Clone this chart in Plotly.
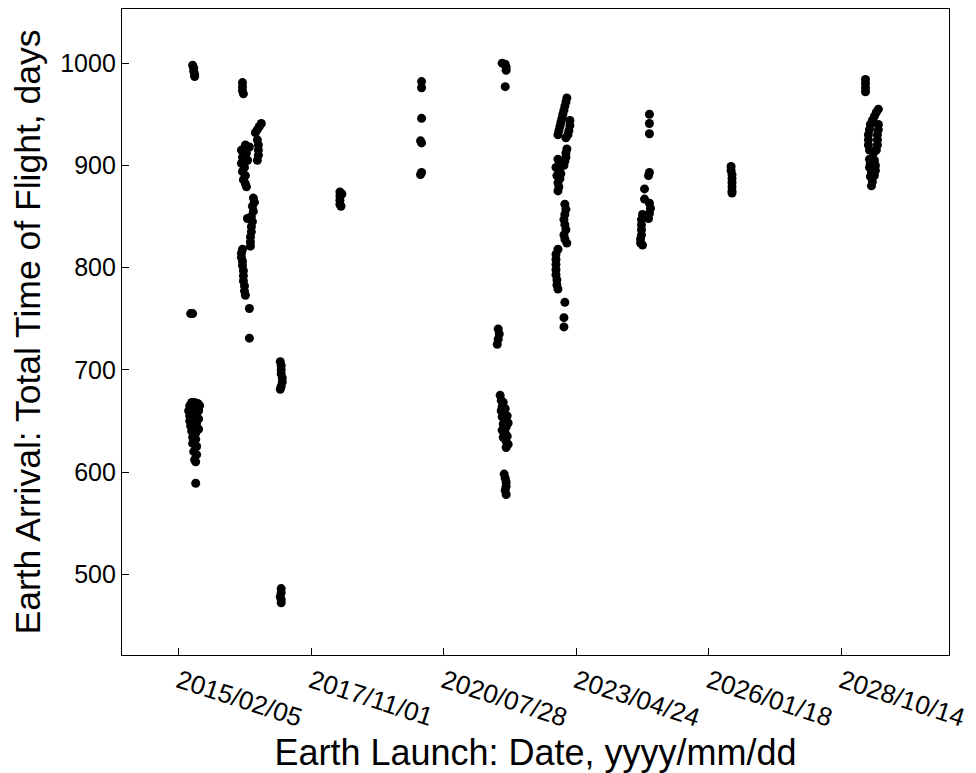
import pandas as pd
import plotly.graph_objects as go

# Launch epoch of the first tick; launch values below are days after this date
epoch = "2015-02-05"
tick_labels = ["2015/02/05", "2017/11/01", "2020/07/28", "2023/04/24", "2026/01/18", "2028/10/14"]
y_ticks = [500, 600, 700, 800, 900, 1000]

# Window 1 (early 2015)
w1_launch = [105, 113, 113, 120, 120, 90, 105,
             83, 98, 120, 143, 158, 75, 98, 128, 150, 83, 105, 135, 150, 83, 113, 135,
             90, 120, 150, 98, 128, 105, 128, 105, 135, 113, 135, 120, 128, 128]
w1_tof = [998, 995, 992, 989, 987, 755, 755,
          665, 668, 668, 667, 665, 660, 662, 662, 660, 655, 656, 655, 652, 650, 650, 648,
          645, 644, 642, 640, 638, 634, 632, 628, 625, 620, 617, 612, 610, 589]

# Window 2 (mid 2016)
w2_launch = [481, 481, 481, 488,
             623, 608, 593, 578,
             593, 601, 601, 601, 593,
             503, 533, 473, 511, 481, 518, 473, 496, 481, 503, 488, 503, 511, 518,
             563, 571, 556, 563, 548, 556, 548, 548, 541, 541, 541, 518,
             481, 473, 473, 481, 481,
             488, 488, 488, 496, 496, 503,
             533, 533]
w2_tof = [981, 977, 973, 970,
          941, 938, 935, 932,
          925, 920, 915, 910, 905,
          920, 918, 915, 912, 908, 905, 902, 898, 894, 890, 886, 882, 879, 905,
          868, 864, 860, 855, 850, 845, 840, 835, 830, 825, 821, 848,
          818, 814, 810, 806, 802,
          797, 792, 787, 782, 777, 773,
          760, 731]

# Window 3 (early 2017)
w3_launch = [766, 773, 773, 773, 781, 781, 773, 766, 773, 773, 766, 773, 773]
w3_tof = [708, 704, 700, 696, 692, 688, 684, 681, 486, 482, 478, 475, 472]

# Window 4 (early 2018)
w4_launch = [1216, 1216, 1216, 1216, 1224, 1231]
w4_tof = [874, 870, 866, 862, 860, 872]

# Window 5 (early 2020)
w5_launch = [1832, 1832, 1832, 1824, 1832, 1832, 1824]
w5_tof = [982, 976, 946, 924, 922, 893, 891]

# Window 6 (late 2021)
w6_launch = [2440, 2463, 2470, 2470, 2463,
             2410, 2418, 2410, 2403,
             2425, 2433, 2448, 2440, 2463, 2433, 2455, 2478, 2440, 2463, 2485, 2448, 2470,
             2440, 2463, 2478, 2448, 2470, 2485, 2470,
             2455, 2463, 2470, 2470, 2463, 2470]
w6_tof = [1000, 999, 996, 993, 977,
          740, 735, 730, 725,
          675, 670, 668, 664, 662, 660, 657, 655, 654, 650, 648, 647, 644,
          641, 638, 635, 634, 630, 627, 624,
          598, 594, 590, 586, 582, 578]

# Window 7 (early 2023)
w7_launch = [2928, 2921, 2913, 2906, 2898, 2891, 2883, 2876, 2868, 2861, 2951, 2951, 2943, 2936, 2921,
             2928, 2921, 2921, 2913, 2906, 2861, 2876, 2846, 2868, 2883, 2853, 2876, 2861, 2868, 2861,
             2913, 2921, 2913, 2906, 2913, 2921, 2906, 2913, 2928,
             2861, 2846, 2846, 2846, 2846, 2846, 2853, 2853, 2861,
             2913, 2906, 2906]
w7_tof = [966, 962, 958, 954, 950, 946, 942, 938, 934, 930, 944, 939, 934, 930, 927,
          916, 912, 908, 904, 900, 906, 902, 898, 895, 892, 890, 887, 883, 879, 875,
          862, 857, 852, 847, 842, 837, 832, 828, 824,
          818, 813, 808, 803, 798, 793, 788, 783, 779,
          766, 751, 742]

# Window 8 (late 2024)
w8_launch = [3551, 3551, 3551, 3551, 3544, 3514, 3514,
             3551, 3559, 3551, 3544,
             3499, 3491, 3491, 3491, 3491, 3484, 3484, 3499]
w8_tof = [950, 941, 931, 893, 890, 877, 867,
          863, 858, 853, 848,
          852, 847, 842, 837, 832, 828, 824, 822]

# Window 9 (mid 2026)
w9_launch = [4167, 4167, 4174, 4174, 4174, 4174, 4174, 4174]
w9_tof = [899, 895, 891, 887, 883, 879, 875, 873]

# Window 10 (early 2029)
w10_launch = [5181, 5181, 5181, 5181,
              5278, 5263, 5248, 5233, 5218, 5211, 5203, 5203, 5203, 5211,
              5278, 5278, 5271, 5271, 5271, 5263, 5241,
              5211, 5218, 5211, 5248, 5256, 5256, 5248, 5226, 5218, 5233, 5226]
w10_tof = [984, 980, 976, 972,
           955, 952, 948, 944, 940, 935, 930, 925, 920, 915,
           940, 935, 930, 925, 920, 915, 912,
           906, 902, 898, 905, 900, 895, 890, 893, 889, 884, 880]

launch_days = (w1_launch + w2_launch + w3_launch + w4_launch + w5_launch
               + w6_launch + w7_launch + w8_launch + w9_launch + w10_launch)
tof_days = (w1_tof + w2_tof + w3_tof + w4_tof + w5_tof
            + w6_tof + w7_tof + w8_tof + w9_tof + w10_tof)

base = pd.Timestamp(epoch)
launch_dates = [base + pd.Timedelta(days=d) for d in launch_days]
tick_vals = [t.replace("/", "-") for t in tick_labels]
x_range = [base + pd.Timedelta(days=-428), base + pd.Timedelta(days=5811)]

FONT = "Liberation Sans, Arial, Helvetica, sans-serif"

fig = go.Figure()
fig.add_trace(go.Scatter(
    x=launch_dates, y=tof_days, mode="markers",
    marker=dict(color="black", size=9, line=dict(width=0)),
    showlegend=False, hoverinfo="x+y",
))

axis_common = dict(
    showline=True, linecolor="black", linewidth=1.3, mirror=True,
    ticks="inside", ticklen=7, tickcolor="black", tickwidth=1,
    showgrid=False, zeroline=False,
)

fig.update_layout(
    width=976, height=773,
    margin=dict(l=122, r=23, t=8, b=118),
    paper_bgcolor="white", plot_bgcolor="white",
    font=dict(family=FONT, color="black"),
    xaxis=dict(
        type="date", range=x_range, tickvals=tick_vals, ticktext=tick_labels,
        tickangle=18, ticklabelstandoff=0, ticklabeloverflow="allow",
        tickfont=dict(family=FONT, size=26, color="black"),
        title=dict(text="Earth Launch: Date, yyyy/mm/dd",
                   font=dict(family=FONT, size=36, color="black"), standoff=0),
        **axis_common,
    ),
    yaxis=dict(
        range=[421, 1053], tickvals=y_ticks, ticklabelstandoff=0,
        tickfont=dict(family=FONT, size=25, color="black"),
        title=dict(text="Earth Arrival: Total Time of Flight, days",
                   font=dict(family=FONT, size=35.5, color="black"), standoff=8),
        **axis_common,
    ),
)

fig.write_html("out.html")
